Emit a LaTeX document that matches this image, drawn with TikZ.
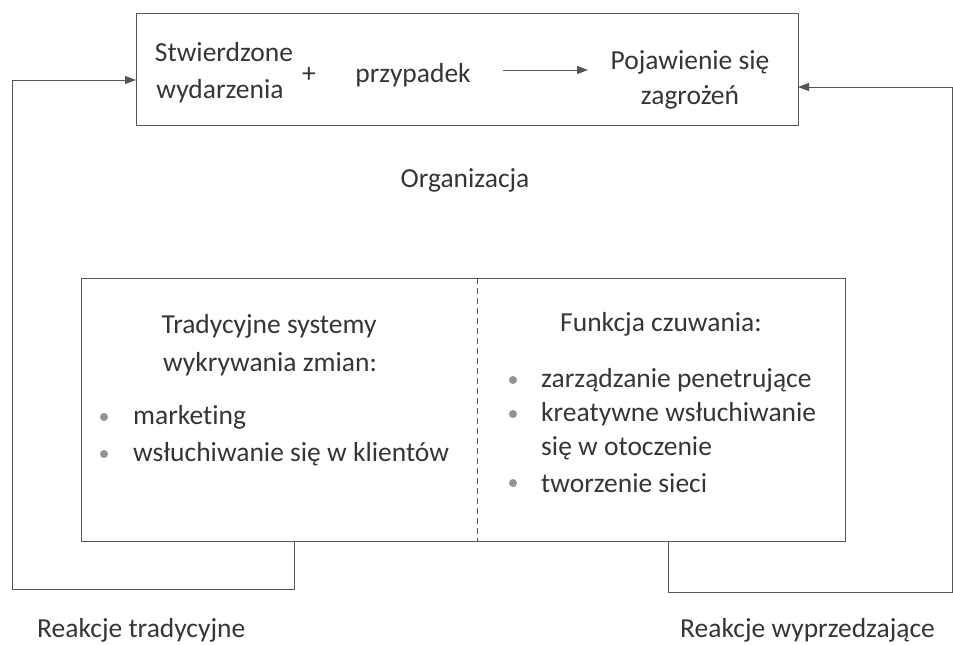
\documentclass[tikz,border=0pt]{standalone}
\usepackage{fontspec}
\setmainfont[Ligatures=NoCommon]{Carlito}
\usetikzlibrary{arrows.meta,calc}
\definecolor{ink}{HTML}{353535}
\definecolor{linec}{HTML}{555555}
\tikzset{
  box/.style={draw=linec, line width=0.9pt, inner sep=0pt},
  txt/.style={text=ink, font=\fontsize{27.5}{32}\selectfont, inner sep=0pt},
  lbl/.style={txt, anchor=west},
  bul/.style={circle, fill=gray!85, inner sep=0pt, minimum size=8pt},
  conn/.style={draw=linec, line width=0.9pt},
  tri/.style={-{Triangle[length=11pt,width=8pt,fill=linec]}}
}
\begin{document}
\begin{tikzpicture}[x=1pt,y=-1pt]
\useasboundingbox (0,0) rectangle (953,645);
% boxes
\node[box, minimum width=662pt, minimum height=112pt] (top) at (467,69) {};
\node[box, minimum width=764pt, minimum height=263pt] (bot) at (463,409.5) {};
\draw[linec, dashed, dash pattern=on 6pt off 4pt, line width=0.8pt] (bot.north -| 477,0) -- (bot.south -| 477,0);
% top texts
\node[txt] (stw) at (224,52) {Stwierdzone};
\node[txt] (wyd) at (220,91) {wydarzenia};
\node[txt] (plus) at (309,75) {+};
\node[txt] (prz) at (413,75) {przypadek};
\node[txt] (poj) at (690,62) {Pojawienie się};
\node[txt] (zag) at (690,97) {zagrożeń};
\coordinate (pa) at (503,70);
\coordinate (pb) at (588,70);
\draw[conn, tri] (pa) -- (pb);
\node[txt] (org) at (465,180) {Organizacja};
% bottom left
\node[txt] (tr1) at (269,326) {Tradycyjne systemy};
\node[txt] (tr2) at (270,364) {wykrywania zmian:};
\node[bul] (b1) at (104,417) {};
\node[lbl] (m1) at (133,417) {marketing};
\node[bul] (b2) at (104,454) {};
\node[lbl] (m2) at (133,454) {wsłuchiwanie się w klientów};
% bottom right
\node[txt] (fc) at (661,324) {Funkcja czuwania:};
\node[bul] (b3) at (513,380) {};
\node[lbl] (r1) at (541,380) {zarządzanie penetrujące};
\node[bul] (b4) at (513,414) {};
\node[lbl] (r2) at (541,414) {kreatywne wsłuchiwanie};
\node[lbl] (r3) at (541,448) {się w otoczenie};
\node[bul] (b5) at (513,483) {};
\node[lbl] (r4) at (541,483) {tworzenie sieci};
% labels
\node[lbl] (rt) at (37,630) {Reakcje tradycyjne};
\node[lbl] (rw) at (680,630) {Reakcje wyprzedzające};
% feedback loops
\coordinate (la) at (294,541);
\coordinate (lb) at (12,589);
\coordinate (lc) at (12,80);
\coordinate (ld) at (136,80);
\draw[conn, tri] (la) |- (lb) -- (lc) -- (ld);
\coordinate (ra) at (668,541);
\coordinate (rb) at (952.5,592);
\coordinate (rc) at (952.5,87);
\coordinate (rd) at (798,87);
\draw[conn, tri] (ra) |- (rb) -- (rc) -- (rd);
\end{tikzpicture}
\end{document}
